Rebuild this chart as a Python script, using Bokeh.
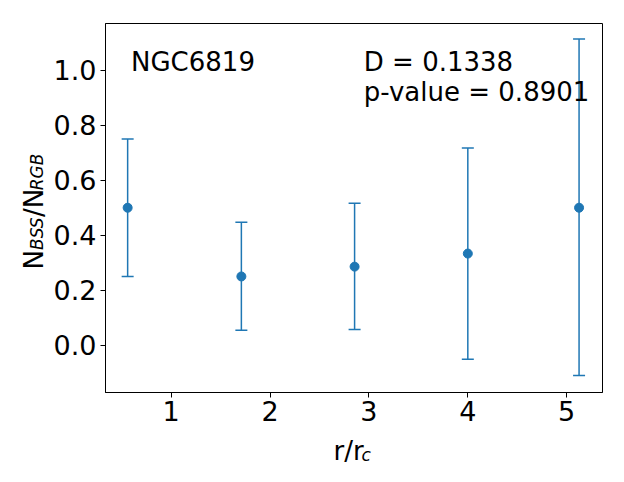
import math
from bokeh.plotting import figure
from bokeh.models import (ColumnDataSource, Whisker, TeeHead, Label, FixedTicker,
                          PrintfTickFormatter, Range1d)
from bokeh.embed import file_html
from bokeh.resources import INLINE

# data
r = [0.56, 1.71, 2.855, 4.0, 5.125]
ratio = [0.5, 0.25, 0.2857, 0.3333, 0.5]
upper = [0.75, 0.447, 0.516, 0.717, 1.114]
lower = [0.25, 0.054, 0.057, -0.051, -0.11]
x_ticks = [1, 2, 3, 4, 5]
y_ticks = [0.0, 0.2, 0.4, 0.6, 0.8, 1.0]
cluster = "NGC6819"
stat_D = "D = 0.1338"
stat_p = "p-value = 0.8901"

BLUE = "#1f77b4"
FONT = "DejaVu Sans"
NB = "\u00a0"

X0, X1 = 0.336, 5.362
Y0, Y1 = -0.172, 1.170
FL, FT, FW, FH = 105, 23, 497, 369  # frame left/top/width/height in px

src = ColumnDataSource(dict(r=r, ratio=ratio, upper=upper, lower=lower))

p = figure(output_backend="svg", toolbar_location=None,
           frame_width=FW, frame_height=FH,
           min_border_left=FL, min_border_right=6,
           min_border_top=FT, min_border_bottom=74,
           x_range=Range1d(X0, X1), y_range=Range1d(Y0, Y1))
p.background_fill_color = "white"
p.border_fill_color = "white"
p.outline_line_color = "black"
p.outline_line_width = 1
p.outline_line_alpha = 1
p.grid.visible = False

for ax in (p.xaxis[0], p.yaxis[0]):
    ax.axis_line_color = "black"
    ax.axis_line_width = 1
    ax.major_tick_line_color = "black"
    ax.major_tick_line_width = 1
    ax.major_tick_out = 5
    ax.major_tick_in = 0
    ax.minor_tick_line_color = None
    ax.major_label_text_font = FONT
    ax.major_label_text_font_size = "27px"
    ax.major_label_text_color = "black"

p.xaxis.ticker = FixedTicker(ticks=x_ticks)
p.yaxis.ticker = FixedTicker(ticks=y_ticks)
p.yaxis.formatter = PrintfTickFormatter(format="%.1f")
p.xaxis.major_label_standoff = 3
p.yaxis.major_label_standoff = 4

w = Whisker(base="r", upper="upper", lower="lower", source=src, dimension="height",
            line_color=BLUE, line_width=1.5,
            upper_head=TeeHead(size=12, line_color=BLUE, line_width=1.5),
            lower_head=TeeHead(size=12, line_color=BLUE, line_width=1.5))
p.add_layout(w)
p.scatter("r", "ratio", source=src, size=9, color=BLUE)

def px2x(px):
    return X0 + (px - FL) * (X1 - X0) / FW

def px2y(py):
    return Y0 + (FT + FH - py) * (Y1 - Y0) / FH

def lab(text, x, y, size, style="normal", angle=0.0, place="center"):
    p.add_layout(Label(x=x, y=y, text=text,
                       text_font=FONT, text_font_size=size, text_font_style=style,
                       text_color="black", angle=angle,
                       text_align="left", text_baseline="alphabetic"), place)

# in-plot annotations
lab(cluster, px2x(130.5), px2y(61.7), "26px")
lab(stat_D, px2x(363.3), px2y(61.7), "26px")
lab(stat_p, px2x(363.3), px2y(91.7), "26px")

# x-axis label: r/r_c
lab("r/r", px2x(333), px2y(450), "26px", place="below")
lab("c", px2x(361), px2y(454), "17px", style="italic", place="above")

# y-axis label: N_BSS / N_RGB rotated (main text and subscripts)
a = math.pi / 2
lab("N" + NB * 4 + "/N", px2x(33), px2y(269), "26px", angle=a, place="left")
lab("BSS" + NB * 5 + "RGB", px2x(36.5), px2y(249.5), "17px", style="italic",
    angle=a, place="left")

open("out.html", "w").write(file_html(p, INLINE))
